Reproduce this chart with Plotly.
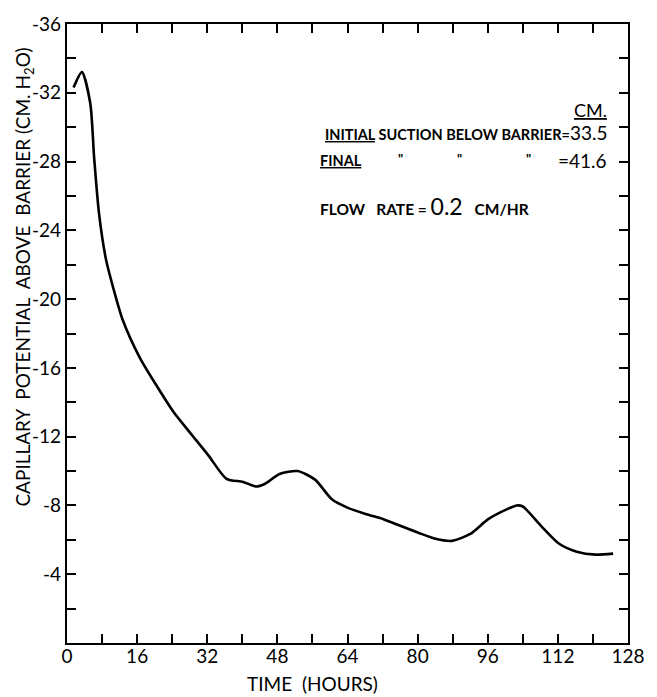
import plotly.graph_objects as go

# Data
time_hours = [1.5, 3.4, 5.3, 6.2, 7.3, 8.9, 10.5, 12.7, 16.6, 20.6, 24.4, 28.5, 32.3,
              36.4, 40.2, 43.1, 45.2, 48.5, 52.6, 56.6, 60.5, 64.1, 68.3, 72.2, 76.2,
              80.3, 84.1, 87.8, 92.0, 96.1, 100.3, 102.6, 104.0, 108.2, 112.3, 116.3,
              120.6, 124.6]
potential = [-32.3, -33.2, -31.4, -28.2, -25.0, -22.3, -20.7, -18.8, -16.6, -14.9,
             -13.4, -12.1, -10.9, -9.55, -9.37, -9.1, -9.26, -9.83, -10.0, -9.5, -8.34,
             -7.86, -7.49, -7.2, -6.8, -6.4, -6.06, -5.94, -6.34, -7.2, -7.77, -8.0,
             -7.94, -6.8, -5.77, -5.31, -5.14, -5.2]

x_tickvals = list(range(0, 129, 8))
x_ticktext = [str(v) if v % 16 == 0 else "" for v in x_tickvals]
y_tickvals = list(range(-36, 1, 2))
y_ticktext = [str(v) if (v % 4 == 0 and v != 0) else "" for v in y_tickvals]

FONT = "Lato"
W, H = 657, 697
L, R, T, B = 66.5, 635, 13, 643


def px(x):
    return (x - L) / (R - L)


def py(y):
    return (B - y) / (B - T)


fig = go.Figure()
fig.add_trace(go.Scatter(
    x=time_hours, y=potential, mode="lines",
    line=dict(color="black", width=2.6, shape="spline", smoothing=0.7),
    showlegend=False, hoverinfo="skip"))

axis_common = dict(
    showgrid=False, zeroline=False, showline=True, linecolor="black", linewidth=2.4,
    mirror="ticks", ticks="inside", ticklen=9, tickwidth=2, tickcolor="black",
    tickfont=dict(family=FONT, size=19, color="black"),
)

fig.update_xaxes(range=[0, 128], tickmode="array", tickvals=x_tickvals,
                 ticktext=x_ticktext, ticklabelstandoff=-5, **axis_common)
fig.update_yaxes(range=[0, -36], tickmode="array", tickvals=y_tickvals,
                 ticktext=y_ticktext, ticklabelstandoff=0, **axis_common)

ann = []
ann.append(dict(text="CAPILLARY  POTENTIAL  ABOVE  BARRIER (CM. H<sub>2</sub>O)",
                x=px(23), y=py(271), xref="paper", yref="paper", textangle=-90,
                showarrow=False, xanchor="center", yanchor="middle",
                font=dict(family=FONT, size=19, color="black")))
ann.append(dict(text="TIME  (HOURS)", x=px(315), y=py(684), xref="paper", yref="paper",
                showarrow=False, xanchor="center", yanchor="middle",
                font=dict(family=FONT, size=19, color="black")))
ann.append(dict(text="<u>CM.</u>", x=px(616), y=py(101), xref="paper", yref="paper",
                showarrow=False, xanchor="right", yanchor="middle",
                font=dict(family=FONT, size=18, color="black")))
ann.append(dict(text="<b><u>INITIAL</u> SUCTION BELOW BARRIER=</b><span style='font-size:19px'>33.5</span>",
                x=px(616), y=py(123), xref="paper", yref="paper",
                showarrow=False, xanchor="right", yanchor="middle",
                font=dict(family=FONT, size=14.5, color="black")))
ann.append(dict(text="<b><u>FINAL</u></b>", x=px(321), y=py(152), xref="paper", yref="paper",
                showarrow=False, xanchor="left", yanchor="middle",
                font=dict(family=FONT, size=14.5, color="black")))
for qx in [404, 464, 534]:
    ann.append(dict(text="<b>\"</b>", x=px(qx), y=py(150), xref="paper", yref="paper",
                    showarrow=False, xanchor="center", yanchor="middle",
                    font=dict(family=FONT, size=13, color="black")))
ann.append(dict(text="=41.6", x=px(616), y=py(152), xref="paper", yref="paper",
                showarrow=False, xanchor="right", yanchor="middle",
                font=dict(family=FONT, size=19, color="black")))
ann.append(dict(text="<b>FLOW   RATE = </b><span style='font-size:23px'>0.2</span>   <b>CM/HR</b>",
                x=px(321), y=py(198), xref="paper", yref="paper",
                showarrow=False, xanchor="left", yanchor="middle",
                font=dict(family=FONT, size=15.5, color="black")))

fig.update_layout(
    width=W, height=H,
    margin=dict(l=L, r=W - R, t=T, b=H - B),
    paper_bgcolor="white", plot_bgcolor="white",
    annotations=ann,
)

fig.write_html("out.html")
